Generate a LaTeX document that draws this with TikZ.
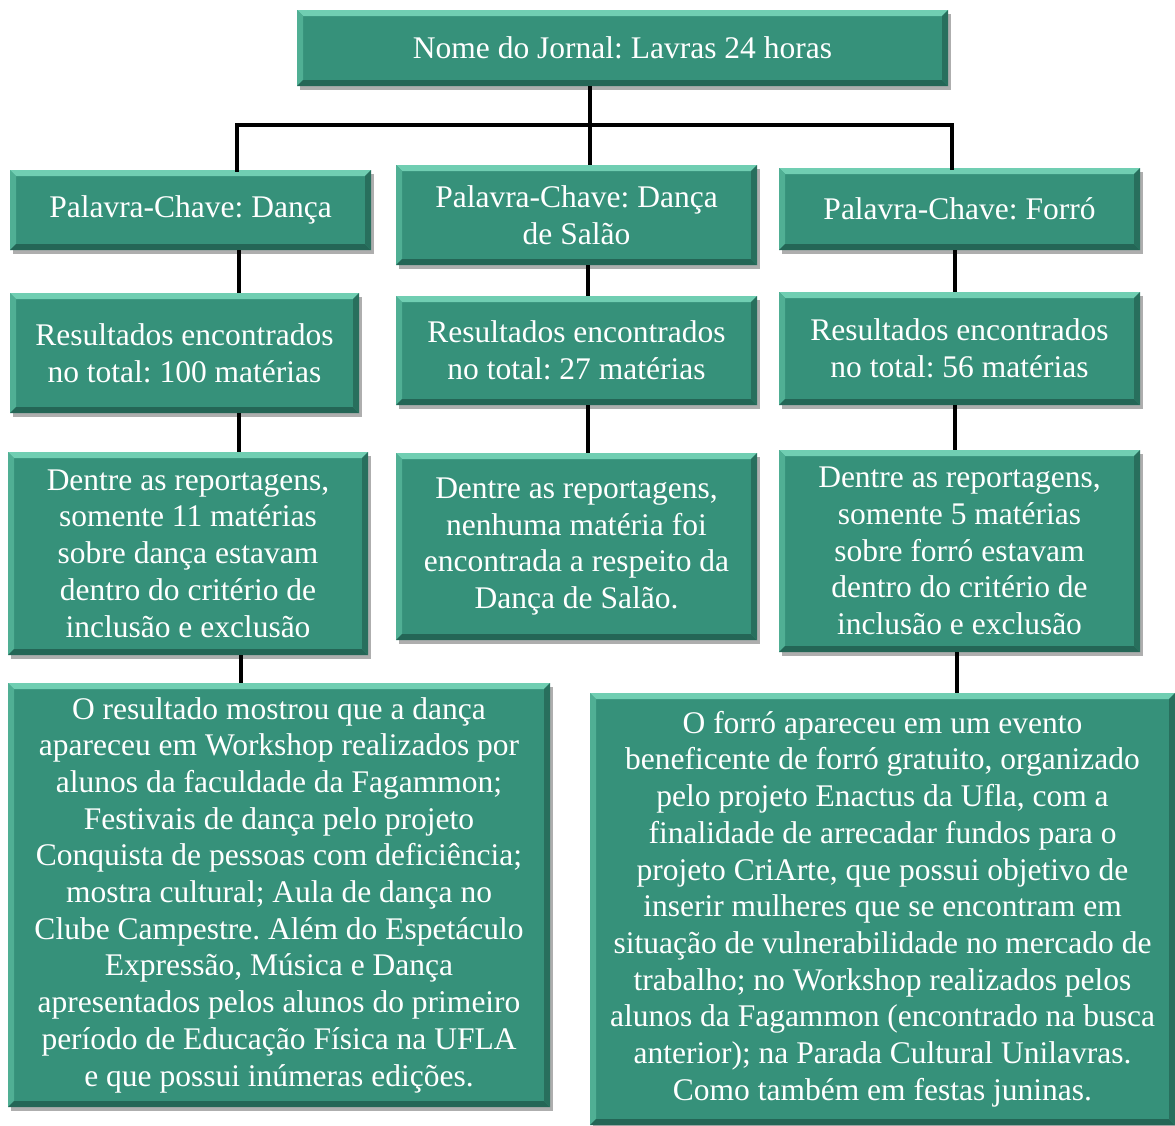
\documentclass[tikz,border=0pt]{standalone}
\usepackage{fontspec}
\setmainfont{Liberation Serif}
\frenchspacing
\usetikzlibrary{shadows}

\definecolor{caixa}{RGB}{54,145,122}
\definecolor{caixaclara}{RGB}{112,206,178}
\definecolor{caixalado}{RGB}{80,175,148}
\definecolor{caixaescura}{RGB}{36,102,86}

\tikzset{
  caixa/.style={rectangle, fill=caixa, text=white, inner sep=0pt, align=center,
    font=\fontsize{31.5}{36.7}\selectfont,
    drop shadow={shadow xshift=3pt, shadow yshift=-4pt, opacity=.45, fill=black!70},
    path picture={
      \fill[caixaclara] (path picture bounding box.north west) -- (path picture bounding box.north east)
        -- ([xshift=-6pt,yshift=-6pt]path picture bounding box.north east) -- ([xshift=6pt,yshift=-6pt]path picture bounding box.north west) -- cycle;
      \fill[caixalado] (path picture bounding box.north west) -- ([xshift=6pt,yshift=-6pt]path picture bounding box.north west)
        -- ([xshift=6pt,yshift=6pt]path picture bounding box.south west) -- (path picture bounding box.south west) -- cycle;
      \fill[caixaescura] (path picture bounding box.south west) -- (path picture bounding box.south east)
        -- ([xshift=-6pt,yshift=6pt]path picture bounding box.south east) -- ([xshift=6pt,yshift=6pt]path picture bounding box.south west) -- cycle;
      \fill[caixaescura!80!caixa] (path picture bounding box.north east) -- ([xshift=-6pt,yshift=-6pt]path picture bounding box.north east)
        -- ([xshift=-6pt,yshift=6pt]path picture bounding box.south east) -- (path picture bounding box.south east) -- cycle;
    }},
  ligacao/.style={line width=4.5pt, black}
}

\begin{document}
\begin{tikzpicture}[x=1pt, y=-1pt]
\useasboundingbox (0,0) rectangle (1175,1125);

% pontos das ligacoes
\coordinate (j1) at (237,125);
\coordinate (j2) at (590,125);
\coordinate (j3) at (952,125);
\coordinate (k1) at (239,0);
\coordinate (k2) at (588,0);
\coordinate (k3) at (955,0);

\node[caixa, minimum width=651pt, minimum height=76pt] (jornal) at (622.5,48) {Nome do Jornal: Lavras 24 horas};

\node[caixa, minimum width=361pt, minimum height=80pt] (chave1) at (190.5,210) {Palavra-Chave: Dança};
\node[caixa, minimum width=361pt, minimum height=100pt] (chave2) at (576.5,215) {Palavra-Chave: Dança\\de Salão};
\node[caixa, minimum width=361pt, minimum height=82pt] (chave3) at (959.5,209) {Palavra-Chave: Forró};

\node[caixa, minimum width=349pt, minimum height=120pt] (total1) at (184.5,353) {Resultados encontrados\\no total: 100 matérias};
\node[caixa, minimum width=361pt, minimum height=109pt] (total2) at (576.5,350.5) {Resultados encontrados\\no total: 27 matérias};
\node[caixa, minimum width=361pt, minimum height=113pt] (total3) at (959.5,348.5) {Resultados encontrados\\no total: 56 matérias};

\node[caixa, minimum width=360pt, minimum height=203pt] (filtro1) at (188,553.5) {Dentre as reportagens,\\somente 11 matérias\\sobre dança estavam\\dentro do critério de\\inclusão e exclusão};
\node[caixa, minimum width=361pt, minimum height=187pt] (filtro2) at (576.5,546.5) {Dentre as reportagens,\\nenhuma matéria foi\\encontrada a respeito da\\Dança de Salão.};
\node[caixa, minimum width=361pt, minimum height=202pt] (filtro3) at (959.5,551) {Dentre as reportagens,\\somente 5 matérias\\sobre forró estavam\\dentro do critério de\\inclusão e exclusão};

\node[caixa, minimum width=542pt, minimum height=424pt] (result1) at (279,895) {O resultado mostrou que a dança\\apareceu em Workshop realizados por\\alunos da faculdade da Fagammon;\\Festivais de dança pelo projeto\\Conquista de pessoas com deficiência;\\mostra cultural; Aula de dança no\\Clube Campestre. Além do Espetáculo\\Expressão, Música e Dança\\apresentados pelos alunos do primeiro\\período de Educação Física na UFLA\\e que possui inúmeras edições.};
\node[caixa, minimum width=585pt, minimum height=432pt] (result3) at (882.5,909) {O forró apareceu em um evento\\beneficente de forró gratuito, organizado\\pelo projeto Enactus da Ufla, com a\\finalidade de arrecadar fundos para o\\projeto CriArte, que possui objetivo de\\inserir mulheres que se encontram em\\situação de vulnerabilidade no mercado de\\trabalho; no Workshop realizados pelos\\alunos da Fagammon (encontrado na busca\\anterior); na Parada Cultural Unilavras.\\Como também em festas juninas.};

\draw[ligacao] (j2 |- jornal.south) -- (j2 |- chave2.north);
\draw[ligacao, line cap=rect] (j1 |- chave1.north) -- (j1) -- (j3) -- (j3 |- chave3.north);
\draw[ligacao] (k1 |- chave1.south) -- (k1 |- total1.north);
\draw[ligacao] (k2 |- chave2.south) -- (k2 |- total2.north);
\draw[ligacao] (k3 |- chave3.south) -- (k3 |- total3.north);
\draw[ligacao] (k1 |- total1.south) -- (k1 |- filtro1.north);
\draw[ligacao] (k2 |- total2.south) -- (k2 |- filtro2.north);
\draw[ligacao] (k3 |- total3.south) -- (k3 |- filtro3.north);
\draw[ligacao] (241,0 |- filtro1.south) -- (241,0 |- result1.north);
\draw[ligacao] (957,0 |- filtro3.south) -- (957,0 |- result3.north);
\end{tikzpicture}
\end{document}
